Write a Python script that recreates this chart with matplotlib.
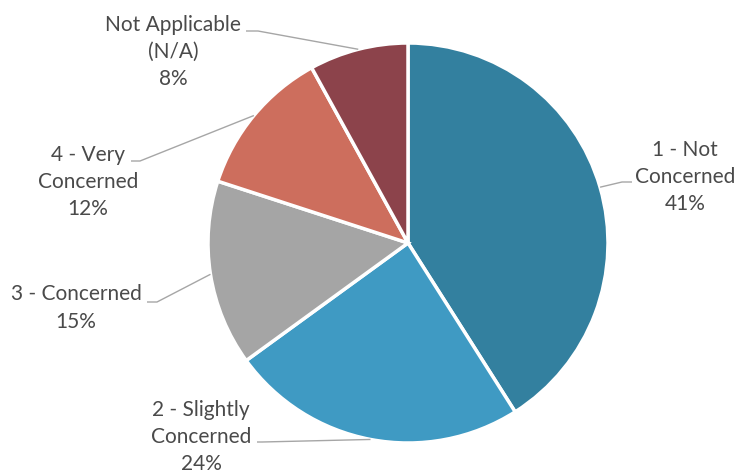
import matplotlib.pyplot as plt
import numpy as np

labels = ["1 - Not\nConcerned", "2 - Slightly\nConcerned", "3 - Concerned",
          "4 - Very\nConcerned", "Not Applicable\n(N/A)"]
shares = [41, 24, 15, 12, 8]
colors = ["#33809f", "#3f9ac3", "#a5a5a5", "#cd6e5d", "#8c434b"]

# label centres and leader lines (start, elbow) in pixel units
text_xy = [(685, 177), (201, 437), (76, 308), (88, 182), (173, 52)]
lead = [((632, 182), (622, 182)), ((257, 442), (262, 442)),
        ((147, 302), (157, 302)), ((131, 161), (140, 161)),
        ((246, 31), (258, 31))]

W, H = 736, 474
cx, cy, r = 408, 243, 200

plt.rcParams["font.family"] = ["Lato", "DejaVu Sans"]
fig = plt.figure(figsize=(W / 100, H / 100), dpi=100)
ax = fig.add_axes([0, 0, 1, 1])

wedges, _ = ax.pie(shares, colors=colors, startangle=90, counterclock=False,
                   center=(cx, H - cy), radius=r,
                   wedgeprops=dict(edgecolor="white", linewidth=2.5))

for w, lab, val, (tx, ty), (p0, p1) in zip(wedges, labels, shares, text_xy, lead):
    ang = np.deg2rad((w.theta1 + w.theta2) / 2)
    ex = cx + r * np.cos(ang)
    ey = cy - r * np.sin(ang)
    ax.plot([p0[0], p1[0], ex], [H - p0[1], H - p1[1], H - ey],
            color="#a6a6a6", lw=1, solid_capstyle="butt")
    ax.text(tx, H - ty, f"{lab}\n{val}%", ha="center", va="center",
            fontsize=15, color="#4a4a4a", linespacing=1.45)

# pie() changes limits and aspect, so set them afterwards
ax.set_xlim(0, W)
ax.set_ylim(0, H)
ax.set_aspect("equal")
ax.axis("off")

fig.savefig("out.png", dpi=100)
